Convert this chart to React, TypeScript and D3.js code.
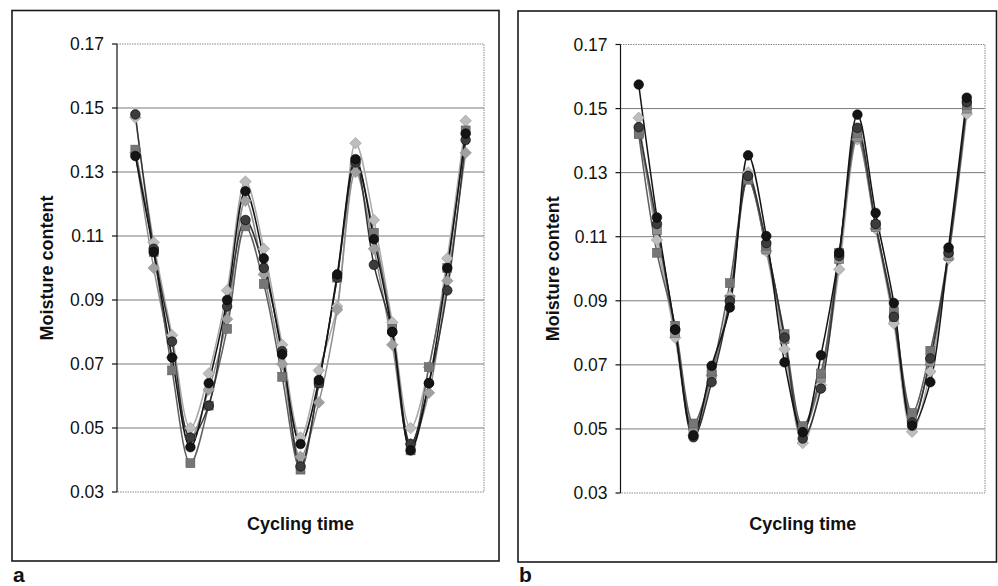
import React from "react";
import * as d3 from "d3";

// ---------- data ----------
const cycleIndex = d3.range(1, 20); // 19 sampling points along cycling time (category slots 1..19 of 20)
const yTicks = [0.03, 0.05, 0.07, 0.09, 0.11, 0.13, 0.15, 0.17];
const yTickLabels = ["0.03", "0.05", "0.07", "0.09", "0.11", "0.13", "0.15", "0.17"];

// Panel a
const a1 = [0.135, 0.105, 0.072, 0.044, 0.064, 0.090, 0.124, 0.103, 0.073, 0.045, 0.065, 0.098, 0.134, 0.109, 0.080, 0.043, 0.064, 0.100, 0.142];
const a2 = [0.148, 0.106, 0.077, 0.047, 0.057, 0.088, 0.115, 0.100, 0.074, 0.038, 0.064, 0.097, 0.133, 0.101, 0.080, 0.045, 0.064, 0.093, 0.140];
const a3 = [0.137, 0.105, 0.068, 0.039, 0.057, 0.081, 0.113, 0.095, 0.066, 0.037, 0.064, 0.097, 0.133, 0.111, 0.081, 0.043, 0.069, 0.100, 0.143];
const a4 = [0.136, 0.100, 0.072, 0.047, 0.062, 0.084, 0.121, 0.098, 0.070, 0.041, 0.058, 0.087, 0.130, 0.106, 0.076, 0.045, 0.061, 0.096, 0.136];
const a5 = [0.147, 0.108, 0.079, 0.050, 0.067, 0.093, 0.127, 0.106, 0.076, 0.047, 0.068, 0.088, 0.139, 0.115, 0.083, 0.050, 0.069, 0.103, 0.146];

// Panel b
const b1 = [0.1575, 0.116, 0.081, 0.048, 0.0697, 0.0879, 0.1354, 0.1102, 0.0708, 0.049, 0.073, 0.105, 0.1481, 0.1174, 0.0893, 0.051, 0.0646, 0.1066, 0.1534];
const b2 = [0.1442, 0.114, 0.081, 0.0474, 0.0646, 0.090, 0.129, 0.108, 0.0785, 0.047, 0.0626, 0.104, 0.144, 0.114, 0.085, 0.052, 0.072, 0.105, 0.152];
const b3 = [0.142, 0.105, 0.0822, 0.0517, 0.0679, 0.0955, 0.1278, 0.1072, 0.0796, 0.0509, 0.0673, 0.1049, 0.1424, 0.1137, 0.0867, 0.055, 0.0744, 0.1055, 0.1512];
const b4 = [0.1424, 0.112, 0.080, 0.050, 0.067, 0.0902, 0.128, 0.106, 0.078, 0.0497, 0.066, 0.103, 0.141, 0.113, 0.0849, 0.053, 0.071, 0.104, 0.150];
const b5 = [0.1471, 0.109, 0.0785, 0.048, 0.0667, 0.0914, 0.1301, 0.1055, 0.0749, 0.0456, 0.0638, 0.0998, 0.1404, 0.1125, 0.0829, 0.0491, 0.0679, 0.1031, 0.1483];

const yTitle = "Moisture content";
const xTitle = "Cycling time";

type Series = { values: number[]; marker: "circle" | "square" | "diamond"; color: string; line: string };

const seriesStyle = [
  { marker: "diamond", color: "#bdbdbd", line: "#aaaaaa" },
  { marker: "diamond", color: "#a0a0a0", line: "#8e8e8e" },
  { marker: "square", color: "#767676", line: "#5e5e5e" },
  { marker: "circle", color: "#3c3c3c", line: "#333333" },
  { marker: "circle", color: "#141414", line: "#141414" },
] as const;

const panelASeries: Series[] = [a5, a4, a3, a2, a1].map((v, i) => ({ values: v, ...seriesStyle[i] } as Series));
const panelBSeries: Series[] = [b5, b4, b3, b2, b1].map((v, i) => ({
  values: v,
  ...(i === 1 ? { marker: "square", color: "#909090", line: "#7c7c7c" } : seriesStyle[i]),
} as Series));

const FONT = "Arial, 'Liberation Sans', sans-serif";

function Marker({ m, x, y, color }: { m: string; x: number; y: number; color: string }) {
  if (m === "circle") return <circle cx={x} cy={y} r={4.8} fill={color} stroke="#000" strokeWidth={0.6} />;
  if (m === "square") return <rect x={x - 4.5} y={y - 4.5} width={9} height={9} fill={color} stroke="#555" strokeWidth={0.5} />;
  const s = 5.8;
  return (
    <path
      d={`M${x},${y - s}L${x + s},${y}L${x},${y + s}L${x - s},${y}Z`}
      fill={color}
      stroke="#888"
      strokeWidth={0.5}
    />
  );
}

function Panel({
  box,
  plot,
  label,
  series,
}: {
  box: { x: number; y: number; w: number; h: number };
  plot: { l: number; r: number; t: number; b: number };
  label: string;
  series: Series[];
}) {
  const x = d3.scaleLinear().domain([0, 20]).range([plot.l, plot.r]);
  const y = d3.scaleLinear().domain([0.03, 0.17]).range([plot.b, plot.t]);
  const line = d3
    .line<number>()
    .x((_, i) => x(cycleIndex[i]))
    .y((d) => y(d))
    .curve(d3.curveCatmullRom.alpha(0.5));
  const cy = (plot.t + plot.b) / 2;
  const cx = (plot.l + plot.r) / 2;
  return (
    <g>
      <rect x={box.x} y={box.y} width={box.w} height={box.h} fill="none" stroke="#1a1a1a" strokeWidth={1.6} />
      {yTicks.map((t, i) =>
        i === 0 || i === yTicks.length - 1 ? null : (
          <line key={t} x1={plot.l} x2={plot.r} y1={y(t)} y2={y(t)} stroke="#7a7a7a" strokeWidth={1} />
        )
      )}
      {/* plot area border */}
      <path
        d={`M${plot.l},${plot.t}H${plot.r}V${plot.b}H${plot.l}`}
        fill="none"
        stroke="#8a8a8a"
        strokeWidth={1}
        strokeDasharray="1.5,1"
      />
      <line x1={plot.l} x2={plot.l} y1={plot.t} y2={plot.b} stroke="#111" strokeWidth={1.2} />
      {yTicks.map((t, i) => (
        <g key={"t" + t}>
          <line x1={plot.l - 5} x2={plot.l} y1={y(t)} y2={y(t)} stroke="#111" strokeWidth={1.2} />
          <text
            x={plot.l - 13}
            y={y(t)}
            dy="0.36em"
            textAnchor="end"
            fontFamily={FONT}
            fontSize={17.5}
            fill="#111"
          >
            {yTickLabels[i]}
          </text>
        </g>
      ))}
      <text
        transform={`translate(${box.x + 41},${cy}) rotate(-90)`}
        textAnchor="middle"
        fontFamily={FONT}
        fontWeight="bold"
        fontSize={18}
        fill="#111"
      >
        {yTitle}
      </text>
      <text x={cx} y={530} textAnchor="middle" fontFamily={FONT} fontWeight="bold" fontSize={18} fill="#111">
        {xTitle}
      </text>
      <text x={box.x + 1} y={582} fontFamily={FONT} fontWeight="bold" fontSize={21} fill="#111">
        {label}
      </text>
      {series.map((s, si) => (
        <path key={"l" + si} d={line(s.values) || ""} fill="none" stroke={s.line} strokeWidth={1.5} />
      ))}
      {series.map((s, si) => (
        <g key={"m" + si}>
          {s.values.map((v, i) => (
            <Marker key={i} m={s.marker} x={x(cycleIndex[i])} y={y(v)} color={s.color} />
          ))}
        </g>
      ))}
    </g>
  );
}

export default function App() {
  return (
    <svg
      width={998}
      height={586}
      style={{ position: "absolute", left: 0, top: 0, background: "#fff" }}
      xmlns="http://www.w3.org/2000/svg"
    >
      <rect x={0} y={0} width={998} height={586} fill="#fff" />
      <Panel
        box={{ x: 12, y: 10.5, w: 487, h: 550.5 }}
        plot={{ l: 117, r: 484, t: 44, b: 492 }}
        label="a"
        series={panelASeries}
      />
      <Panel
        box={{ x: 518, y: 11, w: 478.5, h: 551 }}
        plot={{ l: 620.5, r: 985, t: 44.5, b: 493 }}
        label="b"
        series={panelBSeries}
      />
    </svg>
  );
}
